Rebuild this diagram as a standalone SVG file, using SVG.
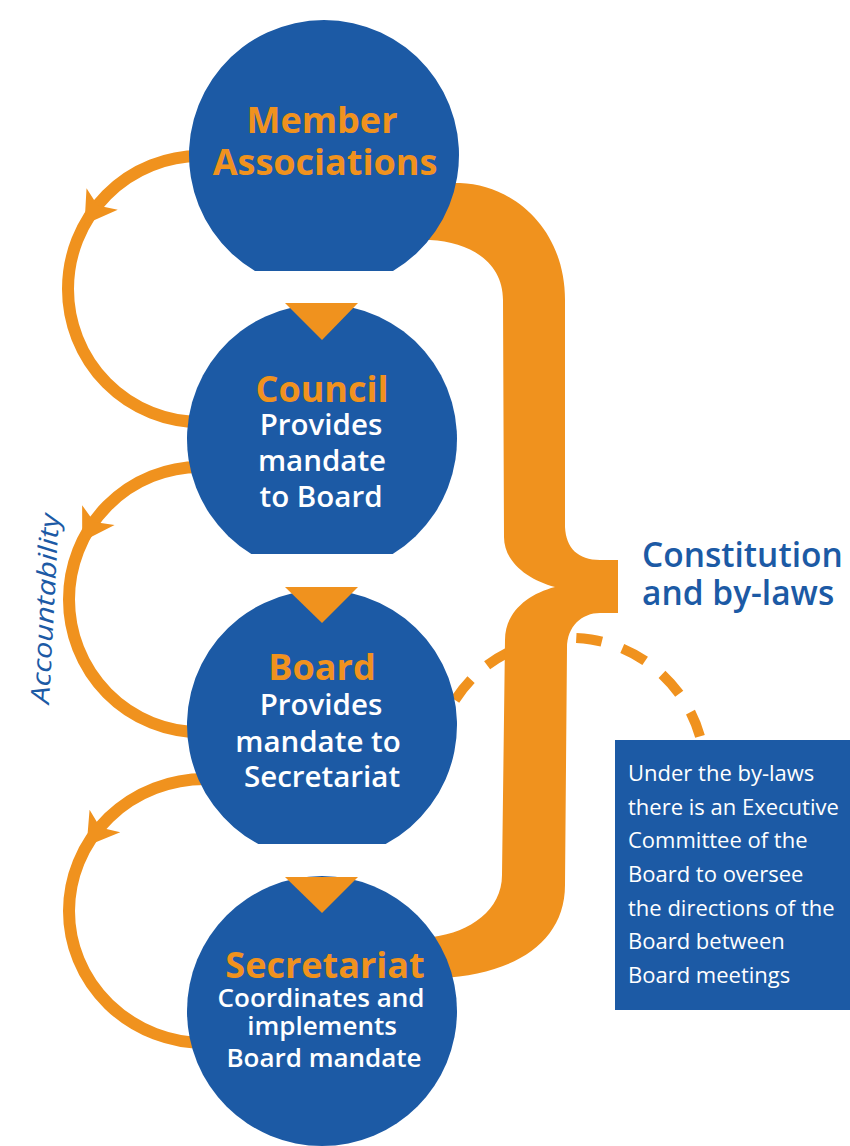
<svg xmlns="http://www.w3.org/2000/svg" width="850" height="1146" viewBox="0 0 850 1146">
<style>
.node{fill:#1C5AA5}
.tri{fill:#F0921E}
.t{font-family:"Open Sans","Liberation Sans",sans-serif;text-anchor:middle}
.ttl{fill:#F0921E;font-weight:700;font-size:36px}
.sub{fill:#FFFFFF;font-weight:600;font-size:29.5px}
.sub2{fill:#FFFFFF;font-weight:600;font-size:26px}
.arc{fill:none;stroke:#F0921E;stroke-width:12}
.ah{fill:#F0921E}
.box{fill:#FFFFFF;font-family:"Open Sans","Liberation Sans",sans-serif;font-size:22px}
</style>
<defs>
<path id="head" d="M 0 0 L -31 -19 L -23 0 L -31 19 Z"/>
</defs>
<rect width="850" height="1146" fill="#FFFFFF"/>
<g id="connectors">
<path d="M 455 700 A 136 136 0 0 1 701 740" fill="none" stroke="#F0921E" stroke-width="10" stroke-dasharray="26 21.5"/>
<path id="brace" fill="#F0921E" d="M 400 183 L 460 183 C 515 185 565 230 565 300 L 565 527 C 566 548 578 560 600 560 L 618 560 L 618 613 L 600 613 C 582 613 567 626 567 648 L 565 885 C 565 945 510 975 440 978 L 400 980 L 400 937 L 433 937 C 470 932 502 910 502 875 L 505 640 C 505 612 528 594 555 587 C 528 580 504 562 504 537 L 503 300 C 503 262 470 242 430 240 L 400 240 Z"/>
<path class="arc" d="M 200 156 A 132 133 0 0 0 200 422"/>
<path class="arc" d="M 200 467 A 131 132.5 0 0 0 200 732"/>
<path class="arc" d="M 205 779 A 136 132 0 0 0 205 1043"/>
<use href="#head" class="ah" transform="translate(84.5,224.5) rotate(124.7)"/>
<use href="#head" class="ah" transform="translate(82.2,541.6) rotate(121.4)"/>
<use href="#head" class="ah" transform="translate(86.6,846) rotate(126.2)"/>
</g>
<g id="member">
<path class="node" d="M 255 271 A 135 135 0 1 1 393 271 Z"/>
<text class="t ttl" x="322" y="133">Member</text>
<text class="t ttl" x="325" y="175">Associations</text>
</g>
<g id="council">
<path class="node" d="M 251.3 554 A 135 135 0 1 1 392.7 554 Z"/>
<polygon class="tri" points="285,303 358,303 322,340"/>
<text class="t ttl" x="322" y="402">Council</text>
<text class="t sub" x="321" y="435">Provides</text>
<text class="t sub" x="322" y="471">mandate</text>
<text class="t sub" x="321" y="507">to Board</text>
</g>
<g id="board">
<path class="node" d="M 258.3 844 A 135 135 0 1 1 385.7 844 Z"/>
<polygon class="tri" points="285,587 358,587 322,623"/>
<text class="t ttl" x="322" y="680">Board</text>
<text class="t sub" x="321" y="715">Provides</text>
<text class="t sub" x="318" y="752">mandate to</text>
<text class="t sub" x="322" y="787">Secretariat</text>
</g>
<g id="secretariat">
<circle class="node" cx="322" cy="1011" r="135"/>
<polygon class="tri" points="285,877 358,877 322,913"/>
<text class="t ttl" x="325" y="978">Secretariat</text>
<text class="t sub2" x="321" y="1007">Coordinates and</text>
<text class="t sub2" x="322" y="1035">implements</text>
<text class="t sub2" x="324" y="1067">Board mandate</text>
</g>
<g id="constitution">
<text font-family="'Open Sans','Liberation Sans',sans-serif" font-weight="600" font-size="33.5px" fill="#1C5AA5" x="642" y="567">Constitution</text>
<text font-family="'Open Sans','Liberation Sans',sans-serif" font-weight="600" font-size="33.5px" fill="#1C5AA5" x="642" y="605">and by-laws</text>
</g>
<g id="accountability">
<text font-family="'Open Sans','Liberation Sans',sans-serif" font-style="italic" font-size="26px" fill="#1C5AA5" transform="translate(49,704) rotate(-87)" textLength="190" lengthAdjust="spacingAndGlyphs">Accountability</text>
</g>
<g id="executive">
<rect x="615" y="740" width="235" height="270" fill="#1C5AA5"/>
<text class="box" x="628" y="781">Under the by-laws</text>
<text class="box" x="628" y="815">there is an Executive</text>
<text class="box" x="628" y="848">Committee of the</text>
<text class="box" x="628" y="882">Board to oversee</text>
<text class="box" x="628" y="916">the directions of the</text>
<text class="box" x="628" y="949">Board between</text>
<text class="box" x="628" y="983">Board meetings</text>
</g>
</svg>
